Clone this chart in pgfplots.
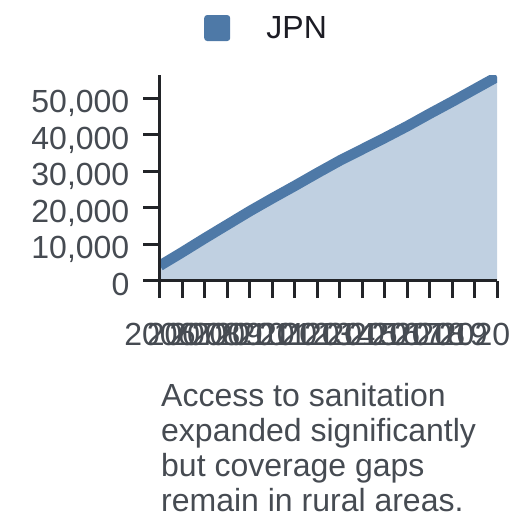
\documentclass[border=0pt]{standalone}
\usepackage{fontspec}
\setmainfont{Liberation Sans}
\usepackage{pgfplots}
\pgfplotsset{compat=1.18}
\definecolor{lineblue}{RGB}{78,121,167}
\definecolor{areablue}{RGB}{192,208,225}
\definecolor{axisdark}{RGB}{34,36,40}
\definecolor{labelgray}{RGB}{70,75,82}
\definecolor{legtext}{RGB}{28,28,36}
\newcommand\bigfont{\fontsize{32}{35}\selectfont}
\begin{document}
\begin{tikzpicture}[x=1pt,y=1pt]
\useasboundingbox (0,0) rectangle (528,528);
\begin{axis}[
  at={(160pt,247pt)}, anchor=south west,
  scale only axis, width=337pt, height=206pt,
  xmin=2006, xmax=2021, ymin=0, ymax=56300,
  axis lines=left,
  axis line style={-, line width=3pt, color=axisdark},
  axis on top,
  xtick={2006,2007,2008,2009,2010,2011,2012,2013,2014,2015,2016,2017,2018,2019,2020,2021},
  xticklabels={2006,2007,2008,2009,2010,2011,2012,2013,2014,2015,2016,2017,2018,2019,2020,{}},
  ytick={0,10000,20000,30000,40000,50000},
  scaled y ticks=false,
  tick style={line width=3pt, color=axisdark},
  tick align=outside, major tick length=17pt,
  ticklabel style={font=\bigfont, text=labelgray, inner sep=0pt},
  xticklabel style={anchor=base, yshift=-47pt},
  yticklabel style={anchor=base east, xshift=-13.5pt, yshift=-14.5pt,
    /pgf/number format/fixed, /pgf/number format/1000 sep={,},
    /pgf/number format/assume math mode=true},
  legend style={at={(0.1306,1.228)}, anchor=west, draw=none, fill=none, font=\bigfont, inner sep=0pt, nodes={inner sep=0pt}},
  legend image code/.code={\path[draw=none, fill=lineblue, rounded corners=3pt] (0pt,-13pt) rectangle (26pt,13pt); \path (57pt,0pt);},
]
\addplot[draw=none, fill=areablue, forget plot] coordinates {
(2006,4200) (2007,7900) (2008,11700) (2009,15400) (2010,19100) (2011,22600)
(2012,26000) (2013,29500) (2014,32900) (2015,36000) (2016,39100) (2017,42300)
(2018,45700) (2019,49000) (2020,52400) (2021,55800)} \closedcycle;
\addplot[line width=10.5pt, color=lineblue] coordinates {
(2006,4200) (2007,7900) (2008,11700) (2009,15400) (2010,19100) (2011,22600)
(2012,26000) (2013,29500) (2014,32900) (2015,36000) (2016,39100) (2017,42300)
(2018,45700) (2019,49000) (2020,52400) (2021,55800)};
\addlegendentry{\textcolor{legtext}{JPN}}
\end{axis}
\node[anchor=north west, inner sep=0pt, align=left, font=\bigfont, text=labelgray] at (161,145) {Access to sanitation\\expanded significantly\\but coverage gaps\\remain in rural areas.};
\end{tikzpicture}
\end{document}
